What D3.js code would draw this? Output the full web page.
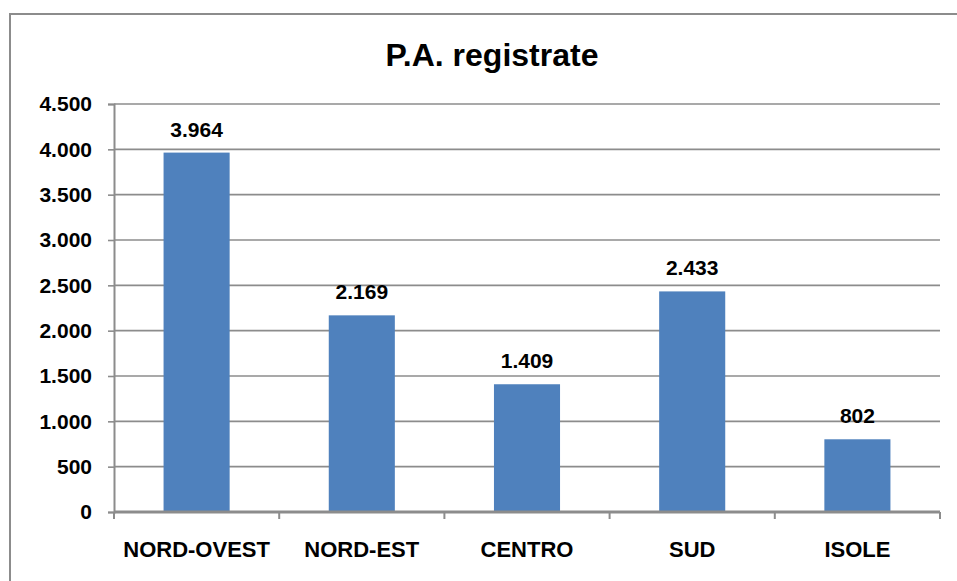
<!DOCTYPE html>
<html><head><meta charset="utf-8">
<script src="https://cdn.jsdelivr.net/npm/d3@7"></script>
<style>body{margin:0;background:#fff}svg{display:block}</style>
</head><body>
<script>
const categories = ["NORD-OVEST","NORD-EST","CENTRO","SUD","ISOLE"];
const values = [3964, 2169, 1409, 2433, 802];
const yTicks = [0,500,1000,1500,2000,2500,3000,3500,4000,4500];
const title = "P.A. registrate";

const W = 957, H = 581;
const m = {left:114, right:17, top:104, bottom:69};
const fmt = v => d3.format(",")(v).replace(/,/g, ".");
const font = "'Liberation Sans', Arial, sans-serif";

const svg = d3.select("body").append("svg").attr("width", W).attr("height", H);

// outer border
svg.append("rect").attr("x",10).attr("y",14).attr("width",W).attr("height",H)
  .attr("fill","none").attr("stroke","#8c8c8c").attr("stroke-width",2);

const x = d3.scaleBand().domain(categories).range([m.left, W-m.right]).paddingInner(0.6).paddingOuter(0.3);
const y = d3.scaleLinear().domain([0,4500]).range([H-m.bottom, m.top]);

// gridlines
svg.append("g").selectAll("line").data(yTicks.filter(d=>d>0)).join("line")
  .attr("x1", m.left).attr("x2", W-m.right)
  .attr("y1", d=>y(d)).attr("y2", d=>y(d))
  .attr("stroke","#8c8c8c").attr("stroke-width",1.6);

// bars
svg.append("g").selectAll("rect").data(values).join("rect")
  .attr("x",(d,i)=>x(categories[i])).attr("width", x.bandwidth())
  .attr("y", d=>y(d)).attr("height", d=>y(0)-y(d))
  .attr("fill","#4f81bd");

// y axis
const yAxis = svg.append("g").attr("transform",`translate(${m.left},0)`)
  .call(d3.axisLeft(y).tickValues(yTicks).tickFormat(fmt).tickSize(6).tickPadding(16));
yAxis.select(".domain").attr("stroke","#8c8c8c").attr("stroke-width",2);
yAxis.selectAll(".tick line").attr("stroke","#8c8c8c").attr("stroke-width",1.6);
yAxis.selectAll("text").attr("font-family",font).attr("font-weight","bold")
  .attr("font-size","21px").attr("fill","#000");

// x axis
const xb = d3.scaleLinear().domain([0,5]).range([m.left, W-m.right]);
svg.append("g").selectAll("line").data(d3.range(6)).join("line")
  .attr("x1", d=>xb(d)).attr("x2", d=>xb(d))
  .attr("y1", y(0)).attr("y2", y(0)+7)
  .attr("stroke","#8c8c8c").attr("stroke-width",2);
svg.append("line").attr("x1",m.left).attr("x2",W-m.right)
  .attr("y1",y(0)).attr("y2",y(0)).attr("stroke","#8c8c8c").attr("stroke-width",3);

svg.append("g").selectAll("text").data(categories).join("text")
  .attr("x", d=>x(d)+x.bandwidth()/2).attr("y", 557)
  .attr("text-anchor","middle").attr("font-family",font).attr("font-weight","bold")
  .attr("font-size","22px").text(d=>d);

// value labels
svg.append("g").selectAll("text").data(values).join("text")
  .attr("x",(d,i)=>x(categories[i])+x.bandwidth()/2).attr("y", d=>y(d)-16)
  .attr("text-anchor","middle").attr("font-family",font).attr("font-weight","bold")
  .attr("font-size","21px").text(d=>fmt(d));

// title
svg.append("text").attr("x",492).attr("y",66).attr("text-anchor","middle")
  .attr("font-family",font).attr("font-weight","bold").attr("font-size","32px").text(title);
</script>
</body></html>
